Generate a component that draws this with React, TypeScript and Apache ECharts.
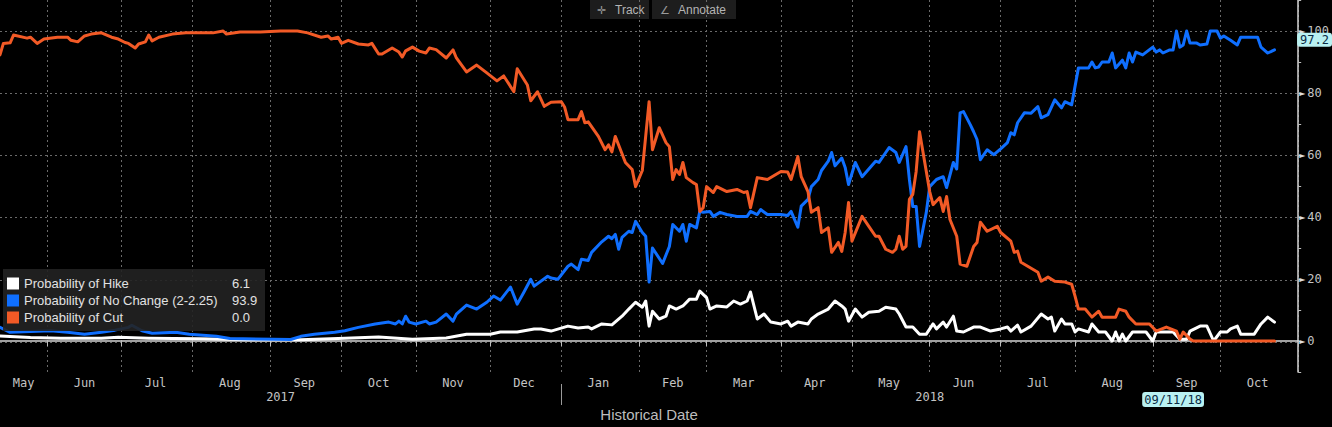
import React, { useEffect, useRef } from 'react';
import * as echarts from 'echarts';

// Business-day axis range (Bloomberg-style historical date axis)
const START_DATE = '2017-05-12';
const END_DATE = '2018-11-01';

// [business-day index from START_DATE, probability %]
const hikePts: [number, number][] = [
  [0,1.6],[9,1.1],[18,0.9],[30,0.9],[35,1.2],[44,0.9],[59,0.7],[74,0.4],[89,0.4],[100,0.8],[112,1.3],[122,0.6],[132,1],
  [138,2.2],[145,2.2],[148,2.9],[153,2.9],[158,3.9],[160,3.9],[163,3.2],[168,4.8],[171,4.2],[174,4.5],[175,3.9],[178,5.5],
  [181,5.2],[184,8],[186,10.3],[188,12.5],[190,10.9],[191,12.9],[192,4.8],[193,9.6],[195,7.1],[197,8],[198,11.3],[200,10.3],
  [202,11.3],[204,13.5],[206,13.5],[207,16.1],[209,14],[210,10.3],[212,11.3],[215,11],[217,12.9],[219,11.9],[221,12.9],
  [222,15.8],[224,7.1],[226,8.7],[228,6.1],[231,5.5],[233,6.4],[234,4.8],[236,6.1],[239,5.5],[240,7.1],[242,8.7],[245,10.3],
  [247,12.9],[249,11.3],[250,10.3],[251,6.4],[253,10.3],[255,7.7],[257,9.3],[260,9.6],[262,10.9],[265,10.3],[266,8.7],
  [268,4.5],[270,4.5],[272,2.2],[274,2.2],[276,5.5],[277,3.9],[279,6.1],[280,4.5],[282,8],[283,3.2],[285,2.9],[288,4.5],
  [290,4.5],[293,3.2],[296,3.9],[298,4.5],[299,3.2],[301,5.1],[302,2.9],[305,4.8],[308,8.7],[310,7.1],[311,7.7],[312,3.2],
  [314,7.1],[315,5.5],[317,5.5],[318,2.9],[319,3.9],[322,2.9],[323,5.5],[325,2.9],[327,2.9],[329,0],[330,2.9],[331,0],
  [332,2.2],[333,0],[335,2.9],[339,2.9],[341,0],[342,2.9],[347,2.9],[349,0.6],[351,0.6],[352,3.2],[355,4.8],[357,4.8],
  [359,0],[361,2.9],[363,2.9],[364,3.9],[366,4.8],[367,2.2],[371,2.2],[373,5.5],[375,7.7],[377,6.1],
];

const noChangePts: [number, number][] = [
  [0,4.4],[3,2.8],[9,3.1],[15,3.3],[20,2.8],[25,2.2],[30,2.8],[34,3.5],[38,4.4],[39,5.1],[42,3.3],[45,2.5],[52,2.8],[56,2.2],
  [64,1.5],[68,0.8],[86,0.5],[89,1.5],[93,2.2],[99,2.8],[102,3.3],[106,4.4],[111,5.5],[115,6.1],[117,5.5],[118,6.4],[119,5.5],
  [120,8],[121,6.1],[123,5.5],[126,6.4],[127,5.5],[129,6.1],[132,8.7],[134,6.4],[135,8.7],[138,11.6],[141,10.3],[144,12.5],
  [146,14.5],[148,13.2],[151,17.4],[153,11.9],[155,15.8],[157,19.9],[158,17.7],[162,20.9],[163,20.3],[165,19.9],[168,24.1],
  [169,24.8],[171,23],[172,26.4],[174,26],[175,28.6],[178,32],[180,33.8],[181,33],[182,34.4],[183,29.6],[184,33.4],[186,35.4],
  [187,35],[188,38.6],[190,35],[191,33.8],[192,19],[193,30],[196,25],[198,30.5],[199,37.6],[201,35.4],[202,37.6],[203,32.2],
  [204,37.6],[206,36.5],[207,41.8],[208,41.5],[210,41.8],[211,40.2],[213,41.5],[215,40.8],[218,40.2],[221,40.2],[222,41.8],
  [224,40.8],[225,42.4],[227,40.8],[231,40.8],[233,40.5],[234,41.8],[236,36.7],[237,43.5],[239,45.7],[240,49.8],[242,52.1],
  [243,55],[245,58],[246,60.8],[247,56.5],[249,59],[250,56],[251,50.5],[253,57.6],[255,53],[257,55.5],[259,58],[260,57.6],
  [262,60.8],[263,62.4],[265,60.8],[266,57.6],[268,62.7],[269,52.1],[270,43.4],[271,43.4],[272,30.5],[274,41.5],[275,49.8],
  [277,52.1],[279,53],[280,49.5],[282,57.6],[283,55.5],[284,73.6],[285,74],[287,69.8],[288,67.5],[289,65],[290,58.5],
  [292,61.7],[294,60.1],[296,62],[298,64],[299,67.2],[300,66.5],[301,70.4],[303,73.6],[305,73.5],[307,75.6],[308,72],
  [310,73],[312,77.8],[314,75.2],[315,77.2],[317,76.2],[319,88.1],[322,88.1],[323,90],[324,88.1],[325,88.4],[326,90],
  [328,90],[329,92.9],[330,88.1],[332,90.6],[333,88.1],[334,92.9],[335,90],[336,93.2],[338,92.3],[341,94.8],[342,93.2],
  [343,93.9],[344,92.9],[346,93.9],[347,93.9],[348,100],[349,94.8],[350,95.5],[351,100],[352,96.1],[354,96.1],[355,95.5],
  [357,95.8],[358,100],[360,100],[361,97.7],[362,98.4],[364,97],[366,95.5],[367,98],[372,98],[373,94.8],[375,92.9],[377,93.9],
];

const cutPts: [number, number][] = [
  [0,92.3],[1,96],[3,96.2],[4,98.7],[8,97.7],[9,98],[11,96],[13,97.4],[17,98],[20,98],[21,97],[23,96.5],[25,98.4],[27,99],
  [30,99.4],[33,98],[35,97.4],[37,96.3],[38,96],[40,94.5],[41,95.8],[43,96.5],[44,98.7],[45,96.8],[47,98],[51,99],[55,99.4],
  [63,99.4],[66,100],[67,99],[71,99.7],[77,99.7],[83,100],[88,100],[91,99.4],[95,98],[97,98.4],[98,97.4],[100,98],[101,96],
  [103,97],[106,95.8],[109,95.5],[110,96],[112,92.6],[113,92.6],[116,94.5],[118,93.2],[119,91.6],[120,93.6],[122,94.8],
  [124,93.5],[126,92.9],[127,94.5],[129,94],[132,91.3],[134,93.9],[135,91.3],[138,86.8],[141,89],[144,86.5],[147,83.9],
  [149,85.5],[152,80.4],[153,87.8],[156,82.6],[157,77.5],[159,80.4],[161,75.7],[163,77],[166,77.2],[167,75.5],[168,71.4],
  [171,71.4],[172,74],[173,70.4],[174,70.7],[177,66],[179,61.7],[180,63.3],[181,61],[182,66],[185,57.6],[187,55.3],[188,49.8],
  [190,55],[192,77.2],[193,61.7],[195,68.8],[197,64],[198,62.7],[199,52.1],[200,55.3],[201,53.7],[202,57.6],[203,52.7],
  [205,51.1],[206,50.5],[207,41.8],[208,43],[209,49.8],[211,47.9],[212,49.8],[215,48.2],[218,48.9],[220,47.9],[221,48.2],
  [222,43],[224,52.7],[227,52.1],[231,54.7],[233,54.5],[234,52.1],[236,59.5],[237,53],[239,48.2],[240,41.5],[242,43],
  [243,35],[245,36.5],[246,28.6],[248,31.8],[249,28.9],[250,35],[251,44.7],[252,32.2],[255,40.2],[257,37],[259,33.8],
  [260,33.8],[262,29.6],[264,28.6],[265,29.6],[266,33.8],[267,29.6],[268,30.5],[269,45.7],[270,47.3],[271,54.7],[272,67.5],
  [274,54.7],[275,48.2],[276,44],[278,46.3],[279,41.8],[280,46.6],[281,39.2],[283,33.8],[284,24.8],[286,24.1],[288,30.5],
  [289,31.8],[290,38.3],[292,35.4],[295,37],[296,35],[299,32.2],[300,28.6],[301,29],[302,25.4],[304,24.1],[307,22.2],
  [308,19.3],[310,20.6],[312,19.3],[315,19],[317,18.3],[318,14.5],[319,10.3],[321,10.3],[323,7.7],[325,9.6],[326,7.7],
  [330,7.7],[331,10.3],[333,9.6],[334,7.7],[336,5.5],[340,5.5],[342,3.2],[345,4.5],[348,3.2],[349,0.6],[350,2.9],[352,0.6],
  [353,0],[377,0],
];

const SERIES_NAMES = ['Probability of Hike', 'Probability of No Change (2-2.25)', 'Probability of Cut'];
const SERIES_COLORS = ['#ffffff', '#0f6fff', '#f25a26'];
const Y_LABELS = [0, 20, 40, 60, 80, 100];
const MONTHS = ['Jan','Feb','Mar','Apr','May','Jun','Jul','Aug','Sep','Oct','Nov','Dec'];
const TRACK_DATE = '2018-09-11';
const TRACK_LABEL = '09/11/18';
const TRACK_VALUE = 97.2;

const MONO = "'DejaVu Sans Mono', 'Liberation Mono', monospace";
const SANS = "'Liberation Sans', Arial, sans-serif";

function businessDays(start: string, end: string): string[] {
  const out: string[] = [];
  const d = new Date(start + 'T00:00:00Z');
  const e = new Date(end + 'T00:00:00Z');
  while (d <= e) {
    const wd = d.getUTCDay();
    if (wd !== 0 && wd !== 6) out.push(d.toISOString().slice(0, 10));
    d.setUTCDate(d.getUTCDate() + 1);
  }
  return out;
}

function buildOption() {
  const cats = businessDays(START_DATE, END_DATE);
  const monthStart = new Set<number>();
  const monthGroups: Record<string, number[]> = {};
  const yearGroups: Record<string, number[]> = {};
  let yearStart = -1;
  cats.forEach((c, i) => {
    const m = c.slice(0, 7);
    const y = c.slice(0, 4);
    if (i > 0 && m !== cats[i - 1].slice(0, 7)) monthStart.add(i);
    if (i > 0 && y !== cats[i - 1].slice(0, 4)) yearStart = i;
    (monthGroups[m] = monthGroups[m] || []).push(i);
    (yearGroups[y] = yearGroups[y] || []).push(i);
  });
  const monthMid = new Set<number>();
  Object.values(monthGroups).forEach((g) => {
    if (g.length >= 5) monthMid.add(Math.round((g[0] + g[g.length - 1]) / 2));
  });
  const yearMid = new Set<number>();
  Object.values(yearGroups).forEach((g) => {
    if (g.length >= 20) yearMid.add(Math.round((g[0] + g[g.length - 1]) / 2));
  });
  const trackIdx = cats.indexOf(TRACK_DATE);

  const all = [hikePts, noChangePts, cutPts];
  const lastVal: Record<string, string> = {};
  SERIES_NAMES.forEach((n, k) => {
    const arr = all[k];
    lastVal[n] = arr[arr.length - 1][1].toFixed(1);
  });

  const dotted = { color: '#6a6a6a', type: [2, 3] as any, width: 1 };

  return {
    animation: false,
    backgroundColor: '#000000',
    grid: [
      { left: 0, right: 33, top: 0, bottom: 54 },
      { left: 0, right: 33, top: 31, bottom: 85 },
    ],
    legend: {
      data: SERIES_NAMES,
      orient: 'vertical',
      left: 3,
      top: 269,
      backgroundColor: 'rgba(34,34,34,0.9)',
      padding: [8, 7, 7, 4],
      itemGap: 4,
      itemWidth: 12,
      itemHeight: 12,
      icon: 'rect',
      selectedMode: false,
      formatter: (name: string) => `{n|${name}}{v|${lastVal[name]}}`,
      textStyle: {
        color: '#e2e2e2',
        fontFamily: SANS,
        fontSize: 13,
        rich: {
          n: { width: 208, fontFamily: SANS, fontSize: 13, color: '#e2e2e2', lineHeight: 12 },
          v: { width: 26, fontFamily: SANS, fontSize: 13, color: '#e2e2e2', lineHeight: 12 },
        },
      },
    },
    xAxis: [
      {
        type: 'category',
        gridIndex: 0,
        data: cats,
        boundaryGap: false,
        axisLine: { show: true, lineStyle: { color: '#d6d6d6', width: 1.5 } },
        axisTick: { show: true, interval: (i: number) => monthStart.has(i), length: 5, lineStyle: { color: '#bdbdbd' } },
        axisLabel: {
          interval: (i: number) => monthMid.has(i),
          formatter: (v: string) => MONTHS[Number(v.slice(5, 7)) - 1],
          color: '#c4c4c4',
          fontFamily: MONO,
          fontSize: 12,
          margin: 5,
        },
        splitLine: { show: true, interval: (i: number) => monthStart.has(i), lineStyle: dotted },
        name: 'Historical Date',
        nameLocation: 'middle',
        nameGap: 35,
        nameTextStyle: { color: '#bdbdbd', fontFamily: SANS, fontSize: 15 },
        axisPointer: {
          show: true,
          status: 'show',
          value: trackIdx,
          type: 'line',
          triggerTooltip: false,
          lineStyle: { opacity: 0 },
          label: {
            show: true,
            formatter: () => TRACK_LABEL,
            backgroundColor: '#b9f1f1',
            color: '#0a2a44',
            fontFamily: MONO,
            fontSize: 12,
            padding: [2, 2, 1, 2],
            margin: 20,
          },
        },
      },
      {
        type: 'category',
        gridIndex: 0,
        data: cats,
        boundaryGap: false,
        position: 'bottom',
        offset: 12,
        axisLine: { show: false },
        axisTick: { show: true, interval: (i: number) => i === yearStart, length: 21, lineStyle: { color: '#9a9a9a' } },
        axisLabel: {
          interval: (i: number) => yearMid.has(i),
          formatter: (v: string) => v.slice(0, 4),
          color: '#c4c4c4',
          fontFamily: MONO,
          fontSize: 12,
          margin: 7,
        },
        splitLine: { show: false },
        axisPointer: { show: false },
      },
      { type: 'value', gridIndex: 1, show: false, min: 0, max: 1 },
    ],
    yAxis: [
      {
        type: 'value',
        gridIndex: 0,
        position: 'right',
        min: -10,
        max: 110,
        interval: 10,
        axisLine: { show: true, lineStyle: { color: '#d6d6d6', width: 1.5 } },
        axisTick: { show: true, length: 3, lineStyle: { color: '#bdbdbd' } },
        axisLabel: {
          margin: 1,
          formatter: (v: number) => (Y_LABELS.includes(v) ? `{t|►}{v|${v}}` : ''),
          rich: {
            t: { fontSize: 8, color: '#dedede', fontFamily: "'DejaVu Sans', sans-serif", padding: [0, 2, 0, 0] },
            v: { fontSize: 12, color: '#c4c4c4', fontFamily: MONO },
          },
        },
        splitLine: { show: false },
        axisPointer: {
          show: true,
          status: 'show',
          value: TRACK_VALUE,
          type: 'line',
          triggerTooltip: false,
          lineStyle: { opacity: 0 },
          label: {
            show: true,
            formatter: () => TRACK_VALUE.toFixed(1),
            backgroundColor: '#b9f1f1',
            color: '#0a2a44',
            fontFamily: MONO,
            fontSize: 12,
            padding: [1, 3, 1, 3],
            margin: 0,
          },
        },
      },
      {
        type: 'value',
        gridIndex: 1,
        min: 0,
        max: 100,
        interval: 20,
        axisLine: { show: false },
        axisTick: { show: false },
        axisLabel: { show: false },
        splitLine: { show: true, lineStyle: dotted },
      },
    ],
    graphic: [
      { type: 'rect', shape: { x: 590, y: 0, width: 59, height: 19 }, style: { fill: '#1d1d1d' } },
      { type: 'rect', shape: { x: 652, y: 0, width: 84, height: 19 }, style: { fill: '#1d1d1d' } },
      { type: 'text', x: 597, y: 10, style: { text: '✛', fill: '#9a9a9a', font: "11px 'DejaVu Sans'", verticalAlign: 'middle' } },
      { type: 'text', x: 615, y: 10, style: { text: 'Track', fill: '#b4b4b4', font: `12px ${SANS}`, verticalAlign: 'middle' } },
      { type: 'text', x: 660, y: 10, style: { text: '∠', fill: '#9a9a9a', font: "11px 'DejaVu Sans'", verticalAlign: 'middle' } },
      { type: 'text', x: 678, y: 10, style: { text: 'Annotate', fill: '#b4b4b4', font: `12px ${SANS}`, verticalAlign: 'middle' } },
    ],
    series: SERIES_NAMES.map((name, k) => ({
      name,
      type: 'line',
      xAxisIndex: 0,
      yAxisIndex: 0,
      data: all[k].map(([i, v]) => [cats[i], v]),
      showSymbol: false,
      symbol: 'none',
      clip: false,
      color: SERIES_COLORS[k],
      lineStyle: { color: SERIES_COLORS[k], width: 3, join: 'round', cap: 'round' },
      emphasis: { disabled: true },
      z: 2 + k,
    })),
  };
}

export default function App() {
  const ref = useRef<HTMLDivElement>(null);
  useEffect(() => {
    if (!ref.current) return;
    const chart = echarts.init(ref.current, null, { renderer: 'svg' });
    chart.setOption(buildOption() as any);
    return () => chart.dispose();
  }, []);
  return (
    <div
      ref={ref}
      style={{ position: 'fixed', left: 0, top: 0, width: 1332, height: 427, background: '#000' }}
    />
  );
}
